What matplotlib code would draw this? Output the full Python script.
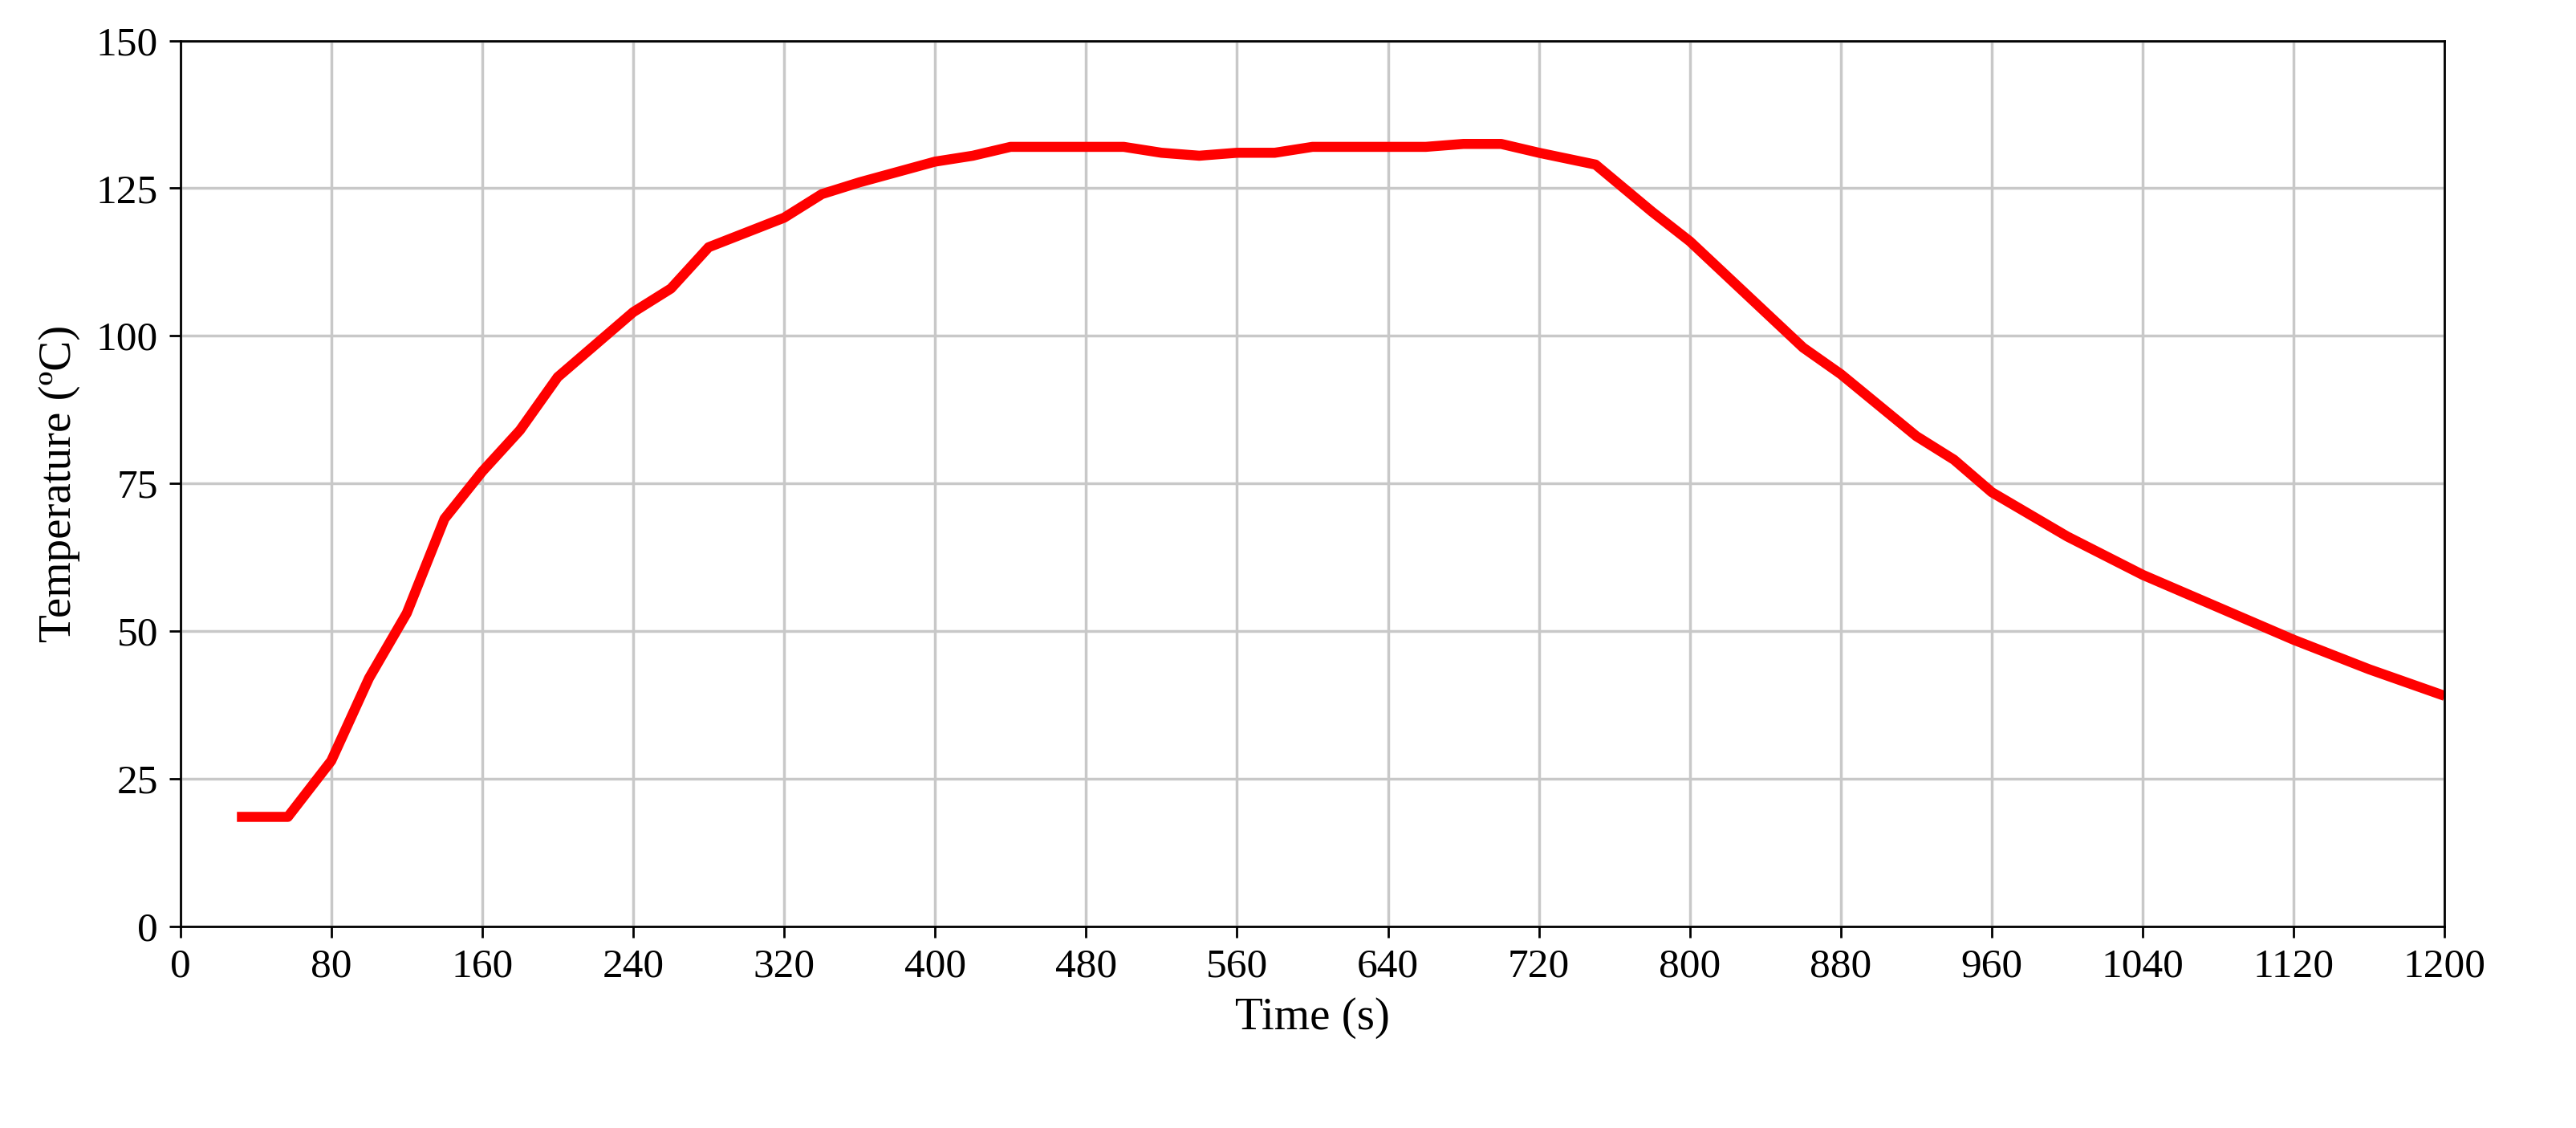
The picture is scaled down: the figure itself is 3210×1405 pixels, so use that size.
import matplotlib
matplotlib.use("Agg")
import matplotlib.pyplot as plt

time_s = [30, 57, 80, 100, 120, 140, 160, 180, 200, 240, 260, 280, 320, 340, 360, 400, 420, 440,
          500, 520, 540, 560, 580, 600, 660, 680, 700, 720, 750, 780, 800, 840, 860, 880, 920,
          940, 960, 1000, 1040, 1080, 1120, 1160, 1200]
temp_c = [18.5, 18.5, 28, 42, 53, 69, 77, 84, 93, 104, 108, 115, 120, 124, 126, 129.5, 130.5, 132,
          132, 131, 130.5, 131, 131, 132, 132, 132.5, 132.5, 131, 129, 121, 116, 104, 98, 93.5, 83,
          79, 73.5, 66, 59.5, 54, 48.5, 43.5, 39]
x_ticks = list(range(0, 1201, 80))
y_ticks = [0, 25, 50, 75, 100, 125, 150]

plt.rcParams['font.family'] = ['Liberation Serif', 'DejaVu Serif']
fig = plt.figure(figsize=(32.1, 14.05), dpi=100)
ax = fig.add_axes([0.070, 0.179, 0.879, 0.785])
ax.plot(time_s, temp_c, color='#ff0000', lw=9, solid_capstyle='butt', solid_joinstyle='round')
ax.set_xlim(0, 1200)
ax.set_ylim(0, 150)
ax.set_xticks(x_ticks)
ax.set_yticks(y_ticks)
ax.grid(True, color='#c8c8c8', lw=2.5)
ax.set_axisbelow(True)
ax.tick_params(labelsize=37, length=10, width=2, pad=10)
for s in ax.spines.values():
    s.set_linewidth(2)
ax.set_xlabel('Time (s)', fontsize=41, labelpad=10)
ax.set_ylabel('Temperature (ºC)', fontsize=41, labelpad=14)
fig.savefig('out.png', dpi=100)
